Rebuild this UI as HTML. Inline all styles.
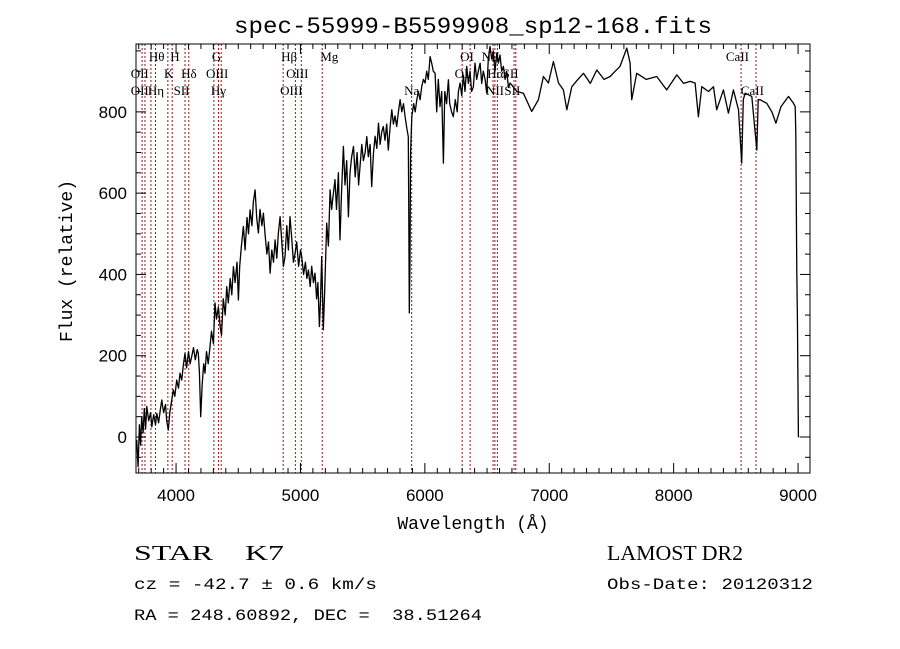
<!DOCTYPE html>
<html><head><meta charset="utf-8"><style>
html,body{margin:0;padding:0;background:#fff;}
svg{display:block;}
text{font-family:"Liberation Sans",sans-serif;fill:#000;white-space:pre;}
.lbl{font-family:"Liberation Serif",serif;font-size:13px;}
</style></head><body>
<svg id="chart" width="900" height="649" viewBox="0 0 900 649" xmlns="http://www.w3.org/2000/svg" xml:space="preserve">
<rect width="900" height="649" fill="#fff"/>
<text x="473" y="33" text-anchor="middle" font-size="23" textLength="478" lengthAdjust="spacingAndGlyphs" style="font-family:'Liberation Mono',monospace">spec-55999-B5599908_sp12-168.fits</text>
<g id="lines"></g>
<g id="spec"></g>
<rect x="136" y="44" width="674" height="429" fill="none" stroke="#000" stroke-width="1"/>
<g id="axes"></g>
<text x="473" y="529" text-anchor="middle" font-size="18" style="font-family:'Liberation Mono',monospace">Wavelength (Å)</text>
<text transform="translate(72,261) rotate(-90)" text-anchor="middle" font-size="18" style="font-family:'Liberation Mono',monospace">Flux (relative)</text>
<text x="134" y="560" font-size="21" textLength="150" lengthAdjust="spacingAndGlyphs" style="font-family:'Liberation Serif',serif">STAR    K7</text>
<text x="607" y="560" font-size="21" textLength="136" lengthAdjust="spacingAndGlyphs" style="font-family:'Liberation Serif',serif">LAMOST DR2</text>
<text x="134" y="589" font-size="16" textLength="243" lengthAdjust="spacingAndGlyphs" style="font-family:'Liberation Mono',monospace">cz = -42.7 ± 0.6 km/s</text>
<text x="607" y="589" font-size="16" textLength="206" lengthAdjust="spacingAndGlyphs" style="font-family:'Liberation Mono',monospace">Obs-Date: 20120312</text>
<text x="134" y="620" font-size="16" textLength="348" lengthAdjust="spacingAndGlyphs" style="font-family:'Liberation Mono',monospace">RA = 248.60892, DEC =  38.51264</text>
</svg>
<script>
const wavelengths=[3684,3695,3705,3715,3724,3735,3745,3755,3765,3780,3795,3805,3820,3835,3845,3860,3875,3885,3900,3915,3925,3938,3950,3965,3978,3990,4005,4020,4032,4045,4060,4072,4085,4100,4113,4126,4140,4155,4170,4179,4188,4198,4210,4222,4233,4245,4258,4273,4285,4300,4313,4325,4340,4354,4365,4380,4395,4407,4420,4435,4448,4461,4475,4490,4501,4512,4525,4541,4555,4570,4582,4595,4610,4622,4635,4648,4662,4675,4690,4702,4715,4730,4743,4756,4770,4783,4796,4810,4822,4836,4850,4863,4876,4890,4903,4916,4930,4943,4957,4970,4985,5000,5010,5025,5040,5052,5064,5078,5090,5104,5117,5130,5140,5152,5160,5171,5184,5195,5211,5225,5238,5250,5265,5278,5290,5305,5318,5330,5345,5358,5372,5385,5398,5412,5426,5440,5455,5467,5479,5493,5506,5520,5533,5545,5560,5573,5587,5600,5614,5627,5640,5653,5666,5680,5693,5706,5720,5734,5747,5760,5774,5787,5801,5815,5828,5841,5855,5867,5872,5875,5880,5885,5895,5910,5922,5935,5948,5962,5975,5988,6002,6015,6028,6042,6055,6068,6082,6095,6108,6122,6135,6149,6160,6175,6189,6200,6215,6229,6245,6260,6270,6283,6296,6310,6323,6336,6350,6363,6376,6390,6403,6417,6430,6444,6457,6470,6484,6497,6510,6524,6537,6550,6564,6578,6591,6604,6618,6631,6645,6658,6672,6685,6740,6792,6859,6913,6953,6993,7033,7074,7114,7141,7181,7230,7275,7330,7382,7440,7489,7530,7569,7623,7650,7663,7703,7780,7864,7944,8025,8080,8132,8172,8199,8226,8280,8320,8346,8400,8440,8480,8521,8547,8560,8574,8628,8668,8680,8695,8749,8790,8822,8863,8923,8963,8977,8982,8990,8995,9003,9010];
const fluxes=[-7,-73,30,-20,50,10,70,20,75,40,60,25,55,30,58,35,70,91,60,80,40,17,60,90,116,100,140,120,157,140,180,206,170,210,180,198,220,190,215,206,160,50,130,180,157,210,180,222,260,230,330,290,320,272,250,340,300,370,330,390,350,419,380,430,337,420,470,518,460,540,500,559,520,580,608,540,502,560,520,551,500,450,480,403,460,430,485,440,500,542,480,420,444,520,460,542,490,430,452,480,420,460,444,400,430,390,411,370,420,380,403,340,380,272,330,444,264,360,526,470,608,560,600,633,560,650,485,600,715,620,680,542,650,690,715,640,700,620,665,720,680,700,739,690,720,616,700,740,710,772,720,750,764,730,770,706,760,805,770,790,764,800,830,800,820,788,760,739,500,305,420,700,788,820,800,830,850,830,862,880,871,900,880,936,920,900,895,800,880,813,850,674,850,820,879,820,800,788,830,800,850,871,840,890,850,912,870,900,850,862,920,880,900,920,870,900,880,846,930,961,930,950,900,944,920,940,900,912,880,900,860,871,850,846,801,830,887,871,924,871,854,805,862,880,895,870,903,880,887,900,912,957,920,830,895,880,887,854,891,870,875,871,788,862,850,862,805,854,797,854,805,674,830,846,838,706,830,830,821,800,772,813,838,821,813,748,403,296,1,0];
const lineWl=[3727,3750,3798,3835,3934,3969,4072,4102,4304,4341,4363,4861,4959,5007,5175,5894,6300,6364,6548,6563,6583,6717,6731,8542,8662];
const lineLabels=[["Hθ",3798,1],["H",3969,1],["G",4304,1],["Hβ",4861,1],["Mg",5175,1],["OI",6300,1],["NII",6548,1],["CaII",8542,1],
["OII",3727,2],["K",3934,2],["Hδ",4102,2],["OIII",4363,2],["OIII",5007,2],["OI",6300,2],["Hα",6563,2],["SII",6717,2],
["OII",3727,3],["Hη",3835,3],["SII",4072,3],["Hγ",4341,3],["OIII",4959,3],["Na",5894,3],["NII",6583,3],["SII",6731,3],["CaII",8662,3]];
const xTicks=[4000,5000,6000,7000,8000,9000];
const yTicks=[0,200,400,600,800];
const X0=136,X1=810,Y0=44,Y1=473,WMIN=3678,WMAX=9096,FMIN=-88.6,FMAX=967;
const NS="http://www.w3.org/2000/svg";
function xs(w){return X0+(w-WMIN)/(WMAX-WMIN)*(X1-X0);}
function ys(f){return Y1-(f-FMIN)/(FMAX-FMIN)*(Y1-Y0);}
function mk(tag,attrs,parent){const e=document.createElementNS(NS,tag);for(const k in attrs)e.setAttribute(k,attrs[k]);parent.appendChild(e);return e;}
const gL=document.getElementById('lines');
lineWl.forEach(w=>{const l=mk('line',{x1:xs(w),x2:xs(w),y1:Y0,y2:Y1,stroke:'#8b1a1a','stroke-width':1,'stroke-dasharray':'2,2'},gL);

});
const rowY=[0,61,78,95];
lineLabels.forEach(([t,w,r])=>{const tx=mk('text',{x:xs(w)-(r===1&&t.length<3?2:t.length*3.8),y:rowY[r],class:'lbl'},gL);tx.textContent=t;

});
const gS=document.getElementById('spec');
let d='';wavelengths.forEach((w,i)=>{d+=(i?'L':'M')+xs(w).toFixed(1)+','+ys(fluxes[i]).toFixed(1);});
const p=mk('path',{d:d,fill:'none',stroke:'#000','stroke-width':1.3,'stroke-linejoin':'round'},gS);


const gA=document.getElementById('axes');
for(let w=3700;w<=9000;w+=100){const maj=w%1000===0;const x=xs(w);
mk('line',{x1:x,x2:x,y1:Y1,y2:Y1-(maj?10:5),stroke:'#000'},gA);
mk('line',{x1:x,x2:x,y1:Y0,y2:Y0+(maj?10:5),stroke:'#000'},gA);}
xTicks.forEach(w=>{const t=mk('text',{x:xs(w),y:501,'text-anchor':'middle','font-size':17},gA);t.textContent=w;

});
for(let f=-50;f<=950;f+=50){const maj=f%200===0;const y=ys(f);
mk('line',{x1:X0,x2:X0+(maj?10:5),y1:y,y2:y,stroke:'#000'},gA);
mk('line',{x1:X1,x2:X1-(maj?10:5),y1:y,y2:y,stroke:'#000'},gA);}
yTicks.forEach(f=>{const t=mk('text',{x:127,y:ys(f)+6,'text-anchor':'end','font-size':17},gA);t.textContent=f;

});
</script>
</body></html>
